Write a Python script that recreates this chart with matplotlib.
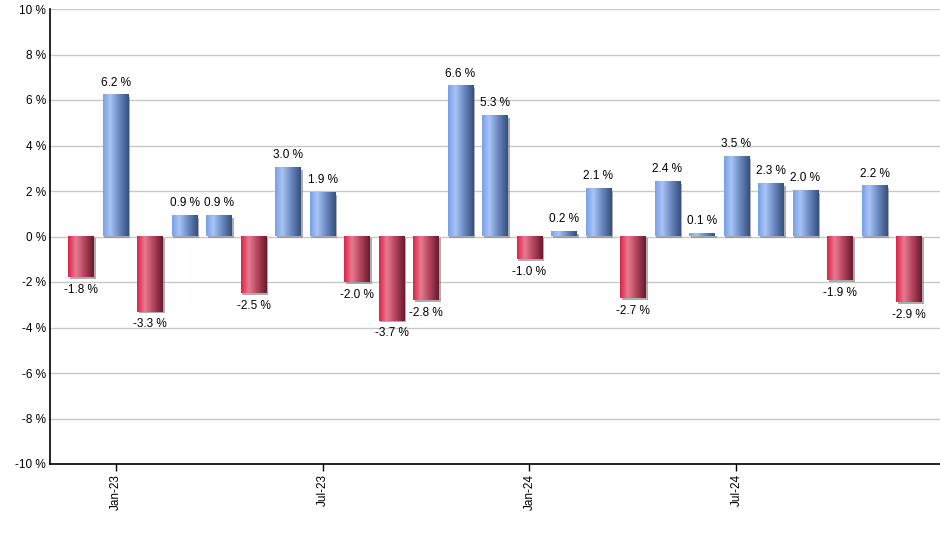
import numpy as np
import matplotlib.pyplot as plt
from matplotlib.colors import LinearSegmentedColormap
from matplotlib.patches import Rectangle

# monthly returns, Dec-22 .. Dec-24
months = ["Dec-22", "Jan-23", "Feb-23", "Mar-23", "Apr-23", "May-23", "Jun-23",
          "Jul-23", "Aug-23", "Sep-23", "Oct-23", "Nov-23", "Dec-23",
          "Jan-24", "Feb-24", "Mar-24", "Apr-24", "May-24", "Jun-24",
          "Jul-24", "Aug-24", "Sep-24", "Oct-24", "Nov-24", "Dec-24"]
returns = [-1.8, 6.2, -3.3, 0.9, 0.9, -2.5, 3.0, 1.9, -2.0, -3.7, -2.8, 6.6, 5.3,
           -1.0, 0.2, 2.1, -2.7, 2.4, 0.1, 3.5, 2.3, 2.0, -1.9, 2.2, -2.9]
tick_months = ["Jan-23", "Jul-23", "Jan-24", "Jul-24"]
yticks = [-10, -8, -6, -4, -2, 0, 2, 4, 6, 8, 10]

plt.rcParams["font.family"] = ["Liberation Sans", "DejaVu Sans"]

blue_cmap = LinearSegmentedColormap.from_list(
    "blu", [(0.0, "#7a9fe6"), (0.28, "#a9c5f6"), (0.6, "#6f8cc4"), (1.0, "#34507f")])
red_cmap = LinearSegmentedColormap.from_list(
    "red", [(0.0, "#dc2448"), (0.3, "#e87a92"), (0.6, "#b84a62"), (1.0, "#6b1a2c")])

fig = plt.figure(figsize=(9.4, 5.5), dpi=100)
ax = fig.add_axes([50 / 940, 86 / 550, 890 / 940, 455 / 550])

x = np.arange(len(returns))
width = 0.75
grad = np.linspace(0, 1, 64).reshape(1, -1)

for xi, v in zip(x, returns):
    cmap = blue_cmap if v >= 0 else red_cmap
    x0, x1 = xi - width / 2, xi + width / 2
    lo, hi = min(0, v), max(0, v)
    # soft shadow
    ax.add_patch(Rectangle((x0 + 0.05, lo - 0.08), width, hi - lo,
                           facecolor="#8a8a8a", edgecolor="none", alpha=0.7, zorder=2))
    ax.imshow(grad, cmap=cmap, aspect="auto", extent=(x0, x1, lo, hi),
              interpolation="bicubic", zorder=3)
    if v >= 0:
        ax.text(xi, v + 0.3, f"{v:.1f} %", ha="center", va="bottom", fontsize=8.5, zorder=4)
    else:
        ax.text(xi, v - 0.3, f"{v:.1f} %", ha="center", va="top", fontsize=8.5, zorder=4)

ax.set_xlim(-0.9, len(returns) - 0.1)
ax.set_ylim(-10, 10)
ax.set_yticks(yticks)
ax.set_yticklabels([f"{t} %" for t in yticks], fontsize=8.5)
ax.tick_params(axis="y", length=0, pad=3)
ax.set_xticks([months.index(m) for m in tick_months])
ax.set_xticklabels(tick_months, rotation=90, fontsize=8.5)
ax.tick_params(axis="x", length=5, width=1, direction="out", pad=2)

ax.grid(axis="y", color="#c8c8c8", linewidth=1, zorder=0)
ax.set_axisbelow(True)
for s in ["top", "right"]:
    ax.spines[s].set_visible(False)
ax.spines["left"].set_color("black")
ax.spines["bottom"].set_color("black")
ax.spines["left"].set_linewidth(1.2)
ax.spines["bottom"].set_linewidth(1.2)

fig.savefig("out.png", dpi=100)
